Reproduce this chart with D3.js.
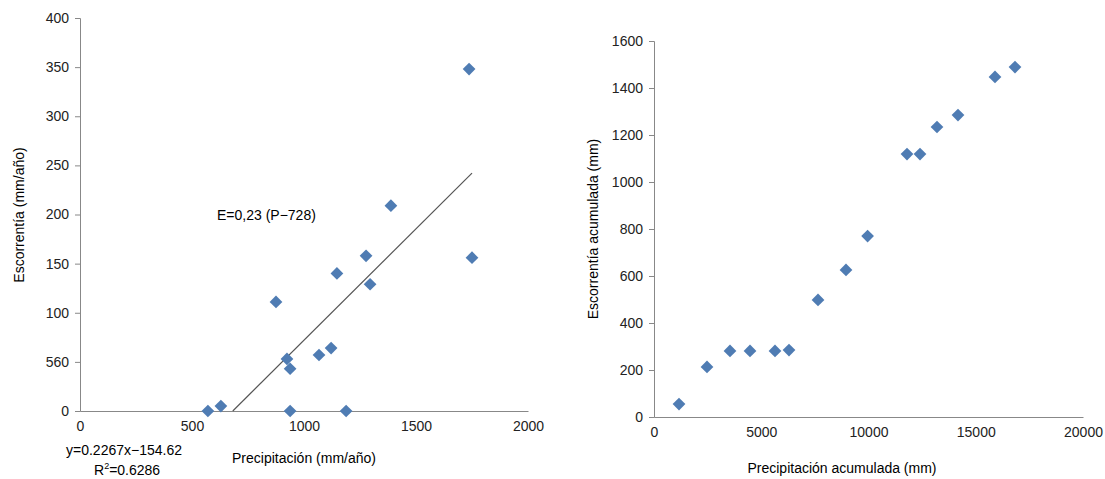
<!DOCTYPE html>
<html><head><meta charset="utf-8">
<script src="https://cdn.jsdelivr.net/npm/d3@7"></script>
<style>body{margin:0;background:#fff;font-family:Arial,"Liberation Sans",sans-serif}</style>
</head><body>
<script>
// left chart data
const precip = [571, 629, 875, 924, 938, 938, 1067, 1121, 1147, 1188, 1277, 1295, 1388, 1737, 1750];
const runoff = [0, 5, 111, 53, 43, 0, 57, 64, 140, 0, 158, 129, 209, 348, 156];
const leftYTicks = [0, 50, 100, 150, 200, 250, 300, 350, 400];
const leftYLabels = ['0', '560', '100', '150', '200', '250', '300', '350', '400'];
const fitRange = [682, 1750];
// right chart data
const cumPrecip = [1166, 2471, 3543, 4476, 5641, 6294, 7646, 8951, 9958, 11795, 12401, 13193, 14172, 15897, 16830];
const cumRunoff = [55, 213, 281, 281, 281, 285, 498, 626, 770, 1119, 1119, 1234, 1285, 1447, 1489];

const svg = d3.select('body').append('svg').attr('width', 1105).attr('height', 479);
const color = '#4f7cb3';
const fmt = d3.format('d');

function diamond(g, pts, x, y) {
  g.selectAll('rect.pt').data(pts).enter().append('rect')
    .attr('class', 'pt')
    .attr('x', -4.5).attr('y', -4.5).attr('width', 9).attr('height', 9)
    .attr('transform', d => `translate(${x(d[0])},${y(d[1])}) rotate(45)`)
    .attr('fill', color);
}
function style(ax) {
  ax.selectAll('path,line').attr('stroke', '#888');
  ax.selectAll('text').attr('font-size', 14).attr('fill', '#222');
}

// left
const xL = d3.scaleLinear().domain([0, 2000]).range([80, 528]);
const yL = d3.scaleLinear().domain([0, 400]).range([411, 18]);
const gL = svg.append('g');
style(gL.append('g').attr('transform', 'translate(0,411)')
  .call(d3.axisBottom(xL).tickValues([0, 500, 1000, 1500, 2000]).tickFormat(fmt).tickSize(0).tickPadding(10)));
style(gL.append('g').attr('transform', 'translate(80,0)')
  .call(d3.axisLeft(yL).tickValues(leftYTicks).tickFormat((d, i) => leftYLabels[i]).tickSize(5).tickPadding(6)));
gL.append('line')
  .attr('x1', xL(fitRange[0])).attr('y1', yL(0.2267 * fitRange[0] - 154.62))
  .attr('x2', xL(fitRange[1])).attr('y2', yL(0.2267 * fitRange[1] - 154.62))
  .attr('stroke', '#555').attr('stroke-width', 1.2);
diamond(gL, precip.map((p, i) => [p, runoff[i]]), xL, yL);
gL.append('text').attr('x', 217).attr('y', 220).attr('font-size', 14).text('E=0,23 (P\u2212728)');
gL.append('text').attr('x', 66).attr('y', 455).attr('font-size', 14).text('y=0.2267x\u2212154.62');
const r2 = gL.append('text').attr('x', 94).attr('y', 475).attr('font-size', 14);
r2.append('tspan').text('R');
r2.append('tspan').attr('dy', -6).attr('font-size', 9).text('2');
r2.append('tspan').attr('dy', 6).text('=0.6286');
gL.append('text').attr('x', 304).attr('y', 463).attr('text-anchor', 'middle').attr('font-size', 14).text('Precipitación (mm/año)');
gL.append('text').attr('transform', 'translate(24,215) rotate(-90)').attr('text-anchor', 'middle').attr('font-size', 14).text('Escorrentía (mm/año)');

// right
const xR = d3.scaleLinear().domain([0, 20000]).range([654, 1083]);
const yR = d3.scaleLinear().domain([0, 1600]).range([417, 41]);
const gR = svg.append('g');
style(gR.append('g').attr('transform', 'translate(0,417)')
  .call(d3.axisBottom(xR).tickValues([0, 5000, 10000, 15000, 20000]).tickFormat(fmt).tickSize(0).tickPadding(10)));
style(gR.append('g').attr('transform', 'translate(654,0)')
  .call(d3.axisLeft(yR).ticks(8).tickFormat(fmt).tickSize(5).tickPadding(6)));
diamond(gR, cumPrecip.map((p, i) => [p, cumRunoff[i]]), xR, yR);
gR.append('text').attr('x', 842).attr('y', 473).attr('text-anchor', 'middle').attr('font-size', 14).text('Precipitación acumulada (mm)');
gR.append('text').attr('transform', 'translate(598,229) rotate(-90)').attr('text-anchor', 'middle').attr('font-size', 14).text('Escorrentía acumulada (mm)');
</script>
</body></html>
